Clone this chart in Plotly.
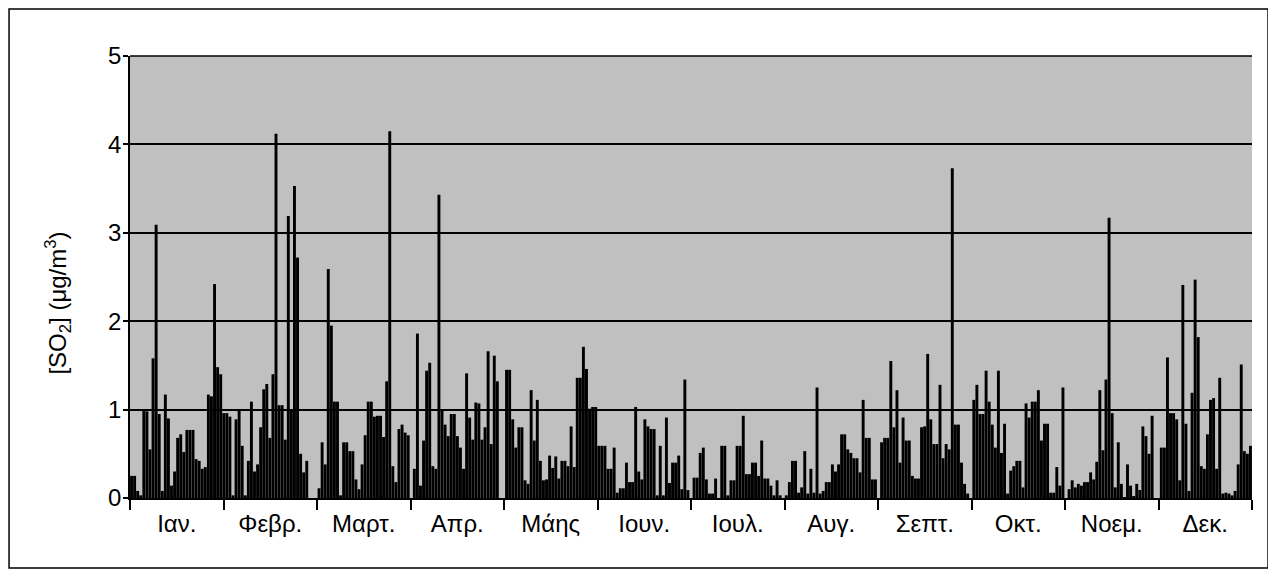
import plotly.graph_objects as go

# Daily SO2 concentrations, one list per axis interval (12 equal intervals)
so2_jan = [0.25, 0.25, 0.08, 0.03, 1.0, 0.98, 0.55, 1.58, 3.09, 0.95, 0.08, 1.17, 0.9, 0.14, 0.3,
           0.68, 0.72, 0.52, 0.77, 0.77, 0.77, 0.44, 0.42, 0.33, 0.35, 1.17, 1.15, 2.42, 1.48, 1.4]
so2_feb = [0.96, 0.96, 0.92, 0.03, 0.89, 1.0, 0.59, 0.03, 0.42, 1.09, 0.3, 0.38, 0.8, 1.23, 1.29, 0.68,
           1.4, 4.12, 1.05, 1.05, 0.66, 3.19, 1.0, 3.53, 2.72, 0.5, 0.29, 0.42, 0, 0, 0]
so2_mar = [0.11, 0.63, 0.38, 2.59, 1.95, 1.09, 1.09, 0.03, 0.63, 0.63, 0.53, 0.53, 0.21, 0.1, 0.38,
           0.71, 1.09, 1.09, 0.92, 0.93, 0.93, 0.69, 1.32, 4.15, 0.36, 0.18, 0.78, 0.83, 0.74, 0.71]
so2_apr = [0, 0.33, 1.86, 0.14, 0.65, 1.44, 1.53, 0.36, 0.33, 3.43, 1.0, 0.83, 0.7, 0.95, 0.95, 0.7,
           0.57, 0.33, 1.41, 0.91, 0.66, 1.08, 1.07, 0.66, 0.8, 1.66, 0.61, 1.61, 1.32, 0, 0]
so2_may = [1.45, 1.45, 0.89, 0.57, 0.8, 0.8, 0.2, 0.16, 1.22, 0.65, 1.11, 0.42, 0.2, 0.21, 0.48,
           0.34, 0.47, 0.22, 0.42, 0.42, 0.36, 0.81, 0.35, 1.36, 1.36, 1.71, 1.46, 1.01, 1.03, 1.03]
so2_jun = [0.59, 0.59, 0.59, 0.33, 0.33, 0.57, 0.06, 0.11, 0.11, 0.4, 0.18, 0.18, 1.03, 0.3, 0.21, 0.89,
           0.81, 0.78, 0.78, 0.03, 0.59, 0.03, 0.91, 0.17, 0.4, 0.4, 0.48, 0.1, 1.34, 0.09, 0]
so2_jul = [0.23, 0.23, 0.51, 0.57, 0.21, 0.05, 0.05, 0.22, 0, 0.59, 0.59, 0.03, 0.2, 0.2, 0.59,
           0.59, 0.93, 0.27, 0.27, 0.4, 0.4, 0.25, 0.65, 0.22, 0.22, 0.14, 0.03, 0.2, 0.03, 0]
so2_aug = [0.03, 0.18, 0.42, 0.42, 0.06, 0.12, 0.53, 0.05, 0.33, 0.06, 1.25, 0.05, 0.08, 0.18, 0.18, 0.38,
           0.3, 0.38, 0.72, 0.72, 0.55, 0.51, 0.45, 0.45, 0.29, 1.11, 0.68, 0.68, 0.21, 0.21, 0]
so2_sep = [0.63, 0.68, 0.68, 1.55, 0.8, 1.22, 0.4, 0.91, 0.65, 0.65, 0.25, 0.22, 0.22, 0.8, 0.81,
           1.63, 0.89, 0.61, 0.61, 1.28, 0.45, 0.61, 0.55, 3.73, 0.83, 0.83, 0.4, 0.16, 0.05, 0]
so2_oct = [1.11, 1.28, 0.95, 0.95, 1.44, 1.09, 0.83, 0.57, 1.44, 0.51, 0.84, 0.05, 0.31, 0.36, 0.42, 0.42,
           0.12, 1.07, 0.91, 1.09, 1.09, 1.22, 0.65, 0.84, 0.84, 0.06, 0.06, 0.35, 0.14, 1.25, 0]
so2_nov = [0.1, 0.2, 0.12, 0.16, 0.14, 0.18, 0.18, 0.29, 0.21, 0.41, 1.22, 0.54, 1.34, 3.17, 0.96,
           0.12, 0.63, 0.16, 0.01, 0.38, 0.14, 0.02, 0.16, 0.09, 0.81, 0.7, 0.5, 0.93, 0, 0]
so2_dec = [0.57, 0.57, 1.59, 0.96, 0.96, 0.89, 0.2, 2.41, 0.84, 0.08, 1.19, 2.47, 1.82, 0.36, 0.33,
           0.72, 1.11, 1.13, 0.33, 1.36, 0.05, 0.06, 0.05, 0.03, 0.08, 0.38, 1.51, 0.53, 0.5, 0.59]

month_labels = ["Ιαν.", "Φεβρ.", "Μαρτ.", "Απρ.", "Μάης", "Ιουν.",
                "Ιουλ.", "Αυγ.", "Σεπτ.", "Οκτ.", "Νοεμ.", "Δεκ."]

values = (so2_jan + so2_feb + so2_mar + so2_apr + so2_may + so2_jun
          + so2_jul + so2_aug + so2_sep + so2_oct + so2_nov + so2_dec)
days = list(range(1, len(values) + 1))
n = len(values)

step = n / 12
bounds = [0.5 + k * step for k in range(13)]
centers = [0.5 + (k + 0.5) * step for k in range(12)]

FONT = "Arial, Liberation Sans, sans-serif"
FS = 24

fig = go.Figure()
fig.add_bar(x=days, y=values, marker=dict(color="black", line=dict(width=0)), xaxis="x", yaxis="y")
# invisible trace to activate the month-label axis
fig.add_scatter(x=[centers[0]], y=[0], mode="markers", marker=dict(opacity=0),
                xaxis="x2", yaxis="y", showlegend=False, hoverinfo="skip")

fig.update_layout(
    width=1276,
    height=576,
    paper_bgcolor="white",
    plot_bgcolor="#c0c0c0",
    # page body adds 8px offset, margins compensate for it
    margin=dict(l=122, r=32, t=48, b=86),
    bargap=0.05,
    showlegend=False,
    font=dict(family=FONT, size=FS, color="black"),
    xaxis=dict(
        range=[0.5, n + 0.5],
        tickvals=bounds,
        showticklabels=False,
        ticks="outside",
        ticklen=10,
        tickwidth=1.5,
        tickcolor="black",
        showline=True,
        linecolor="black",
        linewidth=1.5,
        showgrid=False,
        zeroline=False,
    ),
    xaxis2=dict(
        range=[0.5, n + 0.5],
        overlaying="x",
        anchor="y",
        side="bottom",
        tickvals=centers,
        ticktext=month_labels,
        ticks="outside",
        ticklen=4,
        tickcolor="rgba(0,0,0,0)",
        showline=False,
        showgrid=False,
        zeroline=False,
        tickfont=dict(family=FONT, size=FS, color="black"),
    ),
    yaxis=dict(
        range=[0, 5],
        dtick=1,
        tick0=0,
        ticks="outside",
        ticklen=5,
        tickwidth=1.5,
        tickcolor="black",
        ticklabelstandoff=-3,
        showline=True,
        linecolor="black",
        linewidth=1.5,
        showgrid=True,
        gridcolor="black",
        gridwidth=1.5,
        zeroline=False,
        tickfont=dict(family=FONT, size=FS, color="black"),
    ),
    annotations=[
        dict(text="[SO<sub>2</sub>] (μg/m<sup>3</sup>)", textangle=-90,
             xref="paper", yref="paper", x=-0.065, y=0.44,
             xanchor="center", yanchor="middle", showarrow=False,
             font=dict(family=FONT, size=FS, color="black")),
    ],
    shapes=[
        # top line of plot area
        dict(type="line", xref="paper", yref="paper", x0=0, x1=1, y0=1, y1=1,
             line=dict(color="black", width=1.5)),
        # outer chart border
        dict(type="rect", xref="paper", yref="paper",
             x0=-0.1078, x1=1.0143, y0=-0.1584, y1=1.1063,
             line=dict(color="black", width=1.5), fillcolor="rgba(0,0,0,0)", layer="below"),
    ],
)

fig.write_html("out.html")
